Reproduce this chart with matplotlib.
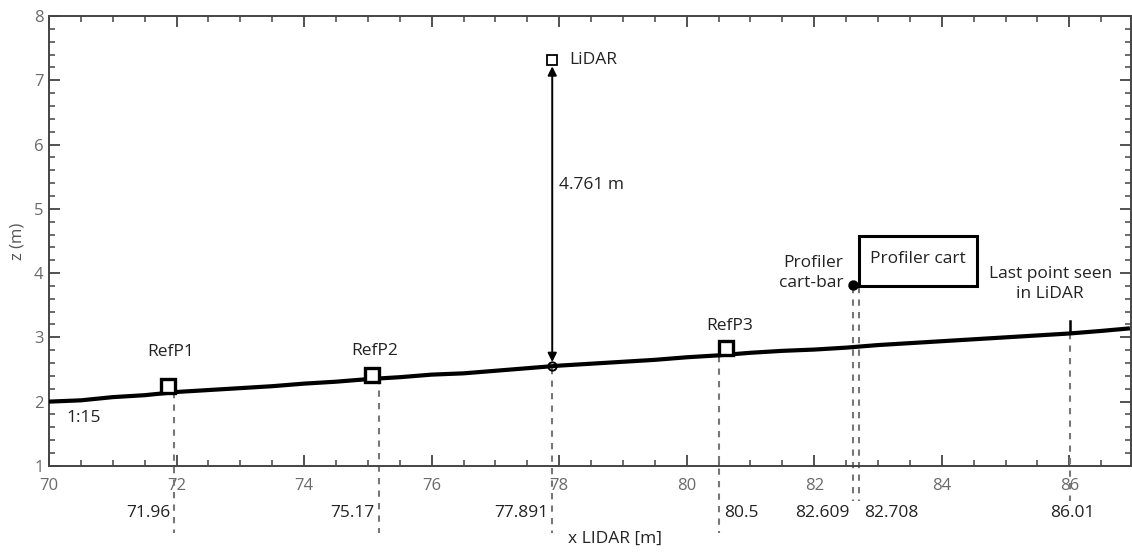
import matplotlib.pyplot as plt
from matplotlib.ticker import MultipleLocator

plt.rcParams['font.family'] = ['Open Sans', 'DejaVu Sans']

# ground profile (x LIDAR, z)
prof_x = [70.0, 70.5, 71.0, 71.5, 72.0, 72.5, 73.0, 73.5, 74.0, 74.5, 75.0, 75.5,
          76.0, 76.5, 77.0, 77.5, 78.0, 78.5, 79.0, 79.5, 80.0, 80.5, 81.0, 81.5,
          82.0, 82.5, 83.0, 83.5, 84.0, 84.5, 85.0, 85.5, 86.0, 86.5, 86.95]
prof_z = [2.00, 2.02, 2.07, 2.10, 2.15, 2.18, 2.21, 2.24, 2.28, 2.31, 2.35, 2.38,
          2.42, 2.44, 2.48, 2.52, 2.56, 2.59, 2.62, 2.65, 2.69, 2.72, 2.76, 2.79,
          2.81, 2.84, 2.88, 2.91, 2.94, 2.97, 3.00, 3.03, 3.06, 3.10, 3.14]

# reference points
ref_names = ['RefP1', 'RefP2', 'RefP3']
ref_x = [71.86, 75.06, 80.62]
ref_z = [2.25, 2.42, 2.83]

lidar_x, lidar_z = 77.891, 7.317
ground_z = 2.556
dist_label = '4.761 m'

bar_x, bar_z = 82.609, 3.81
cart_x0, cart_x1, cart_z0, cart_z1 = 82.708, 84.55, 3.80, 4.57

last_x, last_z = 86.01, 3.06

# vertical markers: x, top z, bottom z, label, alignment
vlines_x = [71.96, 75.17, 77.891, 80.5, 82.609, 82.708, 86.01]
vlines_top = [2.15, 2.36, 2.53, 2.71, 3.78, 3.78, 3.06]
vlines_bot = [-0.04, -0.04, -0.04, -0.04, 0.45, 0.45, 0.45]
vlines_lab = ['71.96', '75.17', '77.891', '80.5', '82.609', '82.708', '86.01']
vlines_ha = ['right', 'right', 'right', 'left', 'right', 'left', 'center']

fig = plt.figure(figsize=(11.32, 5.52), dpi=100)
ax = fig.add_axes([0.0433, 0.156, 0.956, 0.815])

ax.plot(prof_x, prof_z, color='black', lw=3, solid_capstyle='butt', zorder=3)

for vx, vt, vb, lab, ha in zip(vlines_x, vlines_top, vlines_bot, vlines_lab, vlines_ha):
    ax.plot([vx, vx], [vt, vb], color='#777777', lw=1.5, ls=(0, (3, 3)),
            clip_on=False, zorder=2)
    off = {'right': -0.06, 'left': 0.08, 'center': 0.03}[ha]
    ax.text(vx + off, 0.27, lab, ha=ha, va='center', fontsize=12.5,
            color='#222222', clip_on=False)

ref_lab_z = [2.77, 2.78, 3.17]
for name, rx, rz, lz in zip(ref_names, ref_x, ref_z, ref_lab_z):
    ax.plot(rx, rz, 's', ms=10, mfc='white', mec='black', mew=2.4, zorder=4)
    ax.text(rx + 0.05, lz, name, ha='center', va='center', fontsize=12.5,
            color='#222222')

# LiDAR and distance arrow
ax.plot(lidar_x, lidar_z, 's', ms=6.5, mfc='white', mec='black', mew=1.3, zorder=4)
ax.text(lidar_x + 0.27, lidar_z, 'LiDAR', ha='left', va='center', fontsize=12.5,
        color='#222222')
ax.annotate('', xy=(lidar_x, lidar_z - 0.1), xytext=(lidar_x, ground_z + 0.06),
            arrowprops=dict(arrowstyle='<|-|>', color='black', lw=1.4,
                            mutation_scale=13, shrinkA=0, shrinkB=0))
ax.plot(lidar_x, ground_z, 'o', ms=6, mfc='none', mec='black', mew=1.4, zorder=4)
ax.text(lidar_x + 0.1, 5.37, dist_label, ha='left', va='center', fontsize=12.5,
        color='#222222')

# profiler cart
ax.add_patch(plt.Rectangle((cart_x0, cart_z0), cart_x1 - cart_x0, cart_z1 - cart_z0,
                           fill=False, ec='black', lw=2.2, zorder=4))
ax.text((cart_x0 + cart_x1) / 2, (cart_z0 + cart_z1) / 2 + 0.03, 'Profiler cart',
        ha='center', va='center', fontsize=12.5, color='#222222')
ax.plot(bar_x, bar_z, 'o', ms=6.5, color='black', zorder=5)
ax.text(bar_x - 0.15, 4.0, 'Profiler\ncart-bar', ha='right', va='center',
        fontsize=12.5, color='#222222', linespacing=1.3)

# last point seen
ax.plot([last_x, last_x], [last_z, last_z + 0.2], color='black', lw=1.8, zorder=4)
ax.text(85.70, 3.83, 'Last point seen\nin LiDAR', ha='center', va='center',
        fontsize=12.5, color='#222222', linespacing=1.3)

ax.text(70.28, 1.74, '1:15', ha='left', va='center', fontsize=12.5, color='#222222')

ax.set_xlim(70, 86.97)
ax.set_ylim(1, 8)
ax.xaxis.set_major_locator(MultipleLocator(2))
ax.xaxis.set_minor_locator(MultipleLocator(0.5))
ax.yaxis.set_major_locator(MultipleLocator(1))
ax.yaxis.set_minor_locator(MultipleLocator(0.2))
ax.tick_params(which='both', direction='in', top=True, right=True,
               colors='#444444', labelcolor='#6a6a6a', labelsize=12)
ax.tick_params(which='major', length=8, width=1.3)
ax.tick_params(which='minor', length=4, width=1.1)
ax.tick_params(axis='x', pad=9)
ax.tick_params(axis='y', pad=4)
for s in ax.spines.values():
    s.set_color('#444444')
    s.set_linewidth(1.4)

ax.set_xlabel('x LIDAR [m]', fontsize=12.5, color='#222222')
ax.xaxis.set_label_coords(0.523, -0.145)
ax.set_ylabel('z (m)', fontsize=12, color='#555555', labelpad=6)

fig.savefig('out.png', dpi=100)
